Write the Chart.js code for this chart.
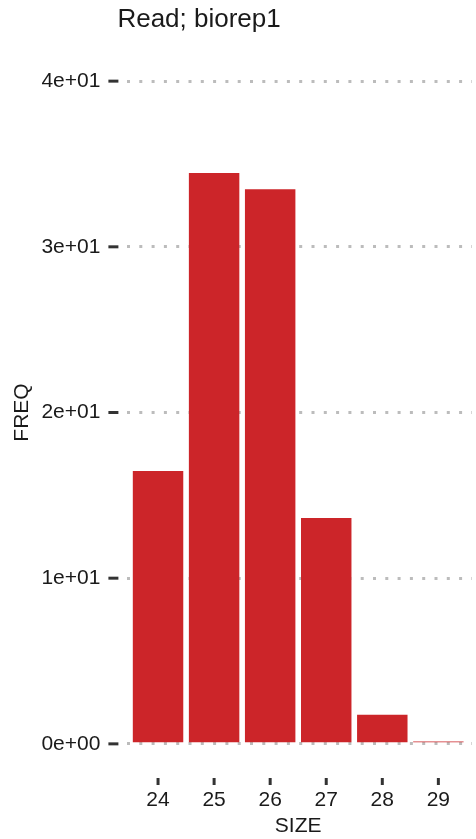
<!DOCTYPE html>
<html>
<head>
<meta charset="utf-8">
<title>Read; biorep1</title>
<script src="https://cdn.jsdelivr.net/npm/chart.js@4/dist/chart.umd.min.js"></script>
<style>
  html, body { margin: 0; padding: 0; background: #ffffff; }
  #wrap { width: 476px; height: 839px; position: relative; }
</style>
</head>
<body>
<div id="wrap"><canvas id="chart"></canvas></div>
<script>
// Read size distribution for biorep1
const sizes = [24, 25, 26, 27, 28, 29];
const freq = [16.47, 34.45, 33.48, 13.63, 1.75, 0.14];
const sizeLabels = ['24', '25', '26', '27', '28', '29'];
const yTickValues = [0, 10, 20, 30, 40];
const yTickLabels = ['0e+00', '1e+01', '2e+01', '3e+01', '4e+01'];
const chartTitle = 'Read; biorep1';

const FONT = '"Liberation Sans", Arial, Helvetica, sans-serif';
const INK = '#1a1a1a';

// Detached tick dashes and the plot title
const decorations = {
  id: 'decorations',
  afterDraw(chart) {
    const ctx = chart.ctx;
    const area = chart.chartArea;
    const xs = chart.scales.x;
    const ys = chart.scales.y;
    ctx.save();
    ctx.strokeStyle = '#333333';
    ctx.lineWidth = 3;
    ctx.lineCap = 'butt';
    ys.ticks.forEach(t => {
      const y = ys.getPixelForValue(t.value);
      ctx.beginPath();
      ctx.moveTo(area.left - 16, y);
      ctx.lineTo(area.left - 6, y);
      ctx.stroke();
    });
    xs.ticks.forEach(t => {
      const x = xs.getPixelForValue(t.value);
      ctx.beginPath();
      ctx.moveTo(x, area.bottom + 1);
      ctx.lineTo(x, area.bottom + 8);
      ctx.stroke();
    });
    ctx.fillStyle = INK;
    ctx.font = '26px ' + FONT;
    ctx.textAlign = 'left';
    ctx.textBaseline = 'alphabetic';
    ctx.fillText(chartTitle, area.left - 7, 27);
    ctx.restore();
  }
};

new Chart(document.getElementById('chart'), {
  type: 'bar',
  data: {
    datasets: [{
      data: sizes.map((s, i) => ({ x: s, y: freq[i] })),
      backgroundColor: '#CC2529',
      borderWidth: 0,
      barPercentage: 0.9,
      categoryPercentage: 1.0
    }]
  },
  options: {
    responsive: true,
    maintainAspectRatio: false,
    animation: false,
    layout: { padding: { top: 48, right: 4, left: 0, bottom: 0 } },
    plugins: {
      legend: { display: false },
      tooltip: { enabled: false },
      title: { display: false }
    },
    scales: {
      x: {
        type: 'linear',
        offset: false,
        min: 23.4,
        max: 29.6,
        afterBuildTicks: s => { s.ticks = sizes.map(v => ({ value: v })); },
        afterFit: s => { s.height = 62; },
        grid: { display: false, drawTicks: false },
        border: { display: false },
        ticks: {
          padding: 11,
          color: INK,
          font: { family: FONT, size: 21 },
          maxRotation: 0,
          callback: v => sizeLabels[sizes.indexOf(v)]
        },
        title: {
          display: true,
          text: 'SIZE',
          color: INK,
          font: { family: FONT, size: 21 },
          padding: { top: 0, bottom: 0 }
        }
      },
      y: {
        min: -2,
        max: 42,
        afterBuildTicks: s => { s.ticks = yTickValues.map(v => ({ value: v })); },
        afterFit: s => { s.width = 124.4; },
        grid: {
          drawTicks: false,
          color: '#bcbcbc',
          lineWidth: 3
        },
        border: { display: false, dash: [3, 9.3], dashOffset: -3 },
        ticks: {
          padding: 24,
          color: INK,
          font: { family: FONT, size: 21 },
          callback: v => yTickLabels[yTickValues.indexOf(v)]
        },
        title: {
          display: true,
          text: 'FREQ',
          color: INK,
          font: { family: FONT, size: 21 },
          padding: { top: 10, bottom: 0 }
        }
      }
    }
  },
  plugins: [decorations]
});
</script>
</body>
</html>
